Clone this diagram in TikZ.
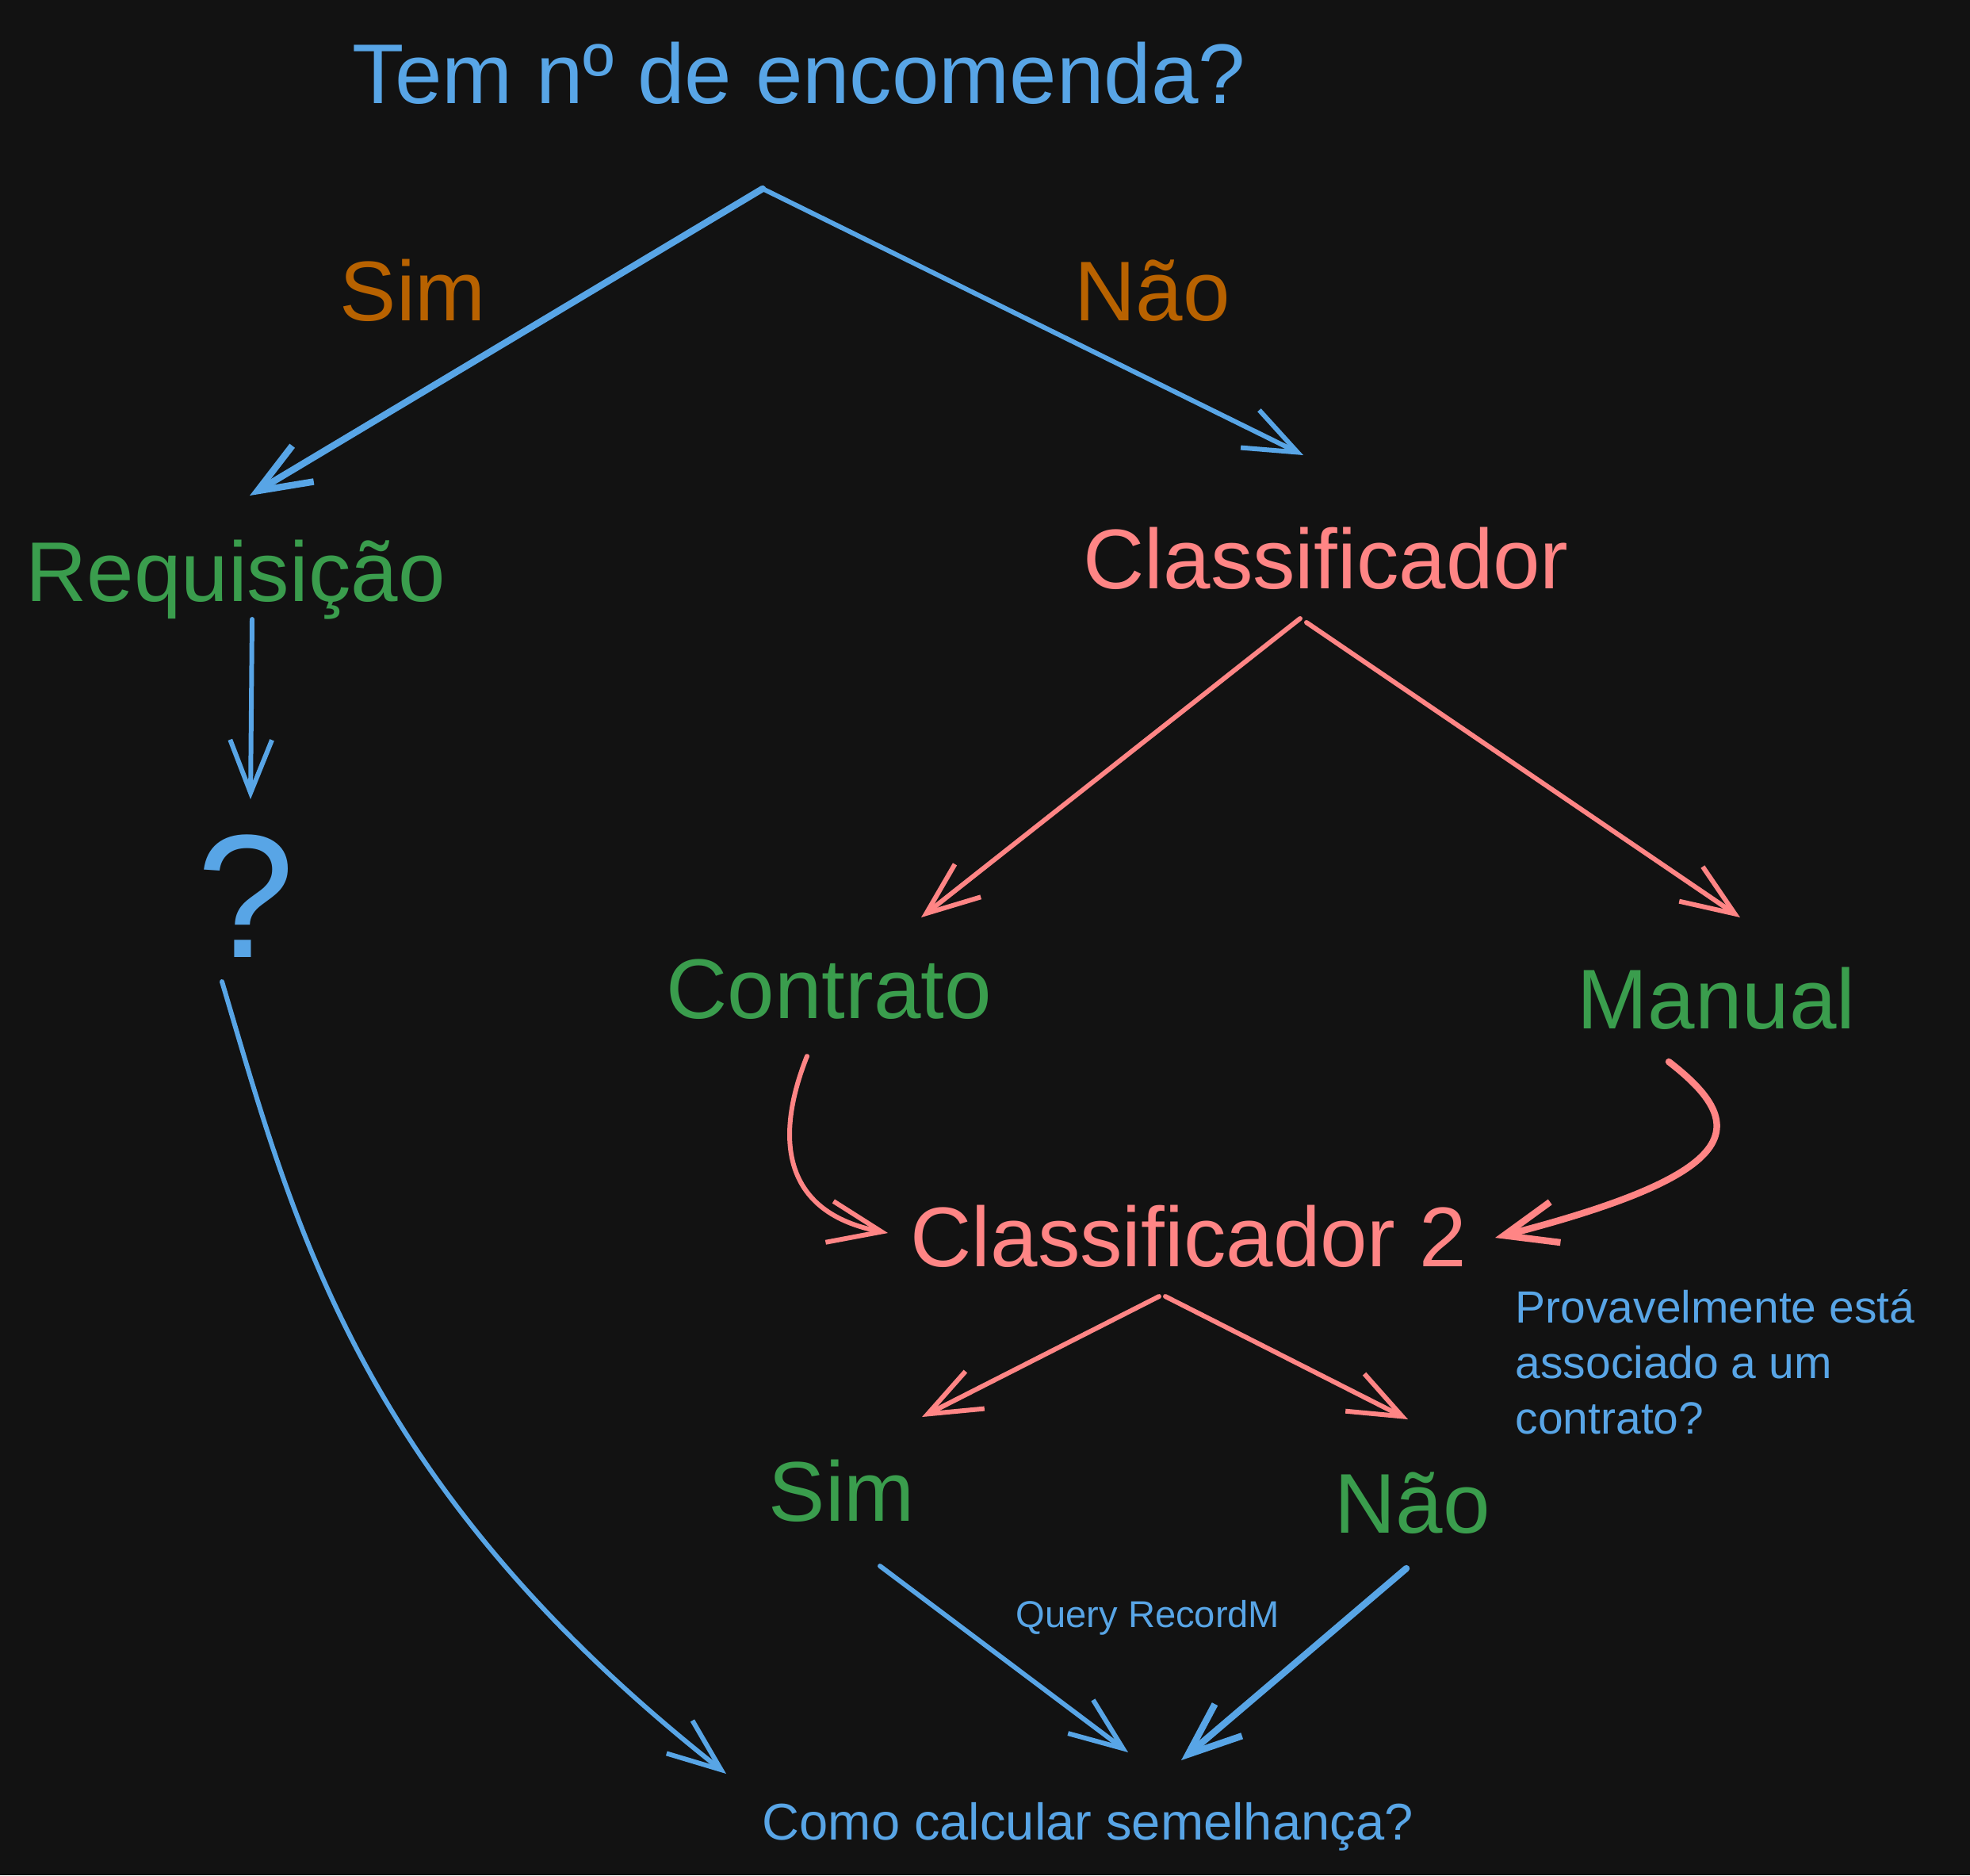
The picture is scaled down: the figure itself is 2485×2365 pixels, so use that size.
\documentclass[tikz,border=0pt]{standalone}
\usepackage{fontspec}
\setmainfont{Liberation Sans}
\usetikzlibrary{arrows.meta,calc}
\definecolor{bg}{HTML}{121212}
\definecolor{skyblue}{HTML}{58A5E6}
\definecolor{leafgreen}{HTML}{3A9D4D}
\definecolor{salmon}{HTML}{FF8585}
\definecolor{rust}{HTML}{B86200}

\begin{document}
\begin{tikzpicture}[x=0.01cm,y=-0.01cm,
  every node/.style={inner sep=0pt,anchor=base west},
  big/.style={font=\fontsize{30.4pt}{36pt}\selectfont},
  note/.style={font=\fontsize{16.2pt}{19.9pt}\selectfont,align=left},
  link/.style={line width=1.7pt,line cap=round,line join=round,-{Straight Barb[length=19pt,width=15pt]}},
  heavy/.style={link,line width=2.4pt}]
\fill[bg] (0,0) rectangle (2485,2365);
% question and first split
\node[big,skyblue] (title) at (444,130) {Tem nº de encomenda?};
\node[big,rust] (yes) at (428,404) {Sim};
\node[big,rust] (no) at (1355,404) {Não};
\node[big,leafgreen] (req) at (32,758) {Requisição};
\node[big,salmon] (cls) at (1366,742) {Classificador};
\node[font=\fontsize{63pt}{70pt}\selectfont,skyblue] (unk) at (248,1207) {?};
\node[big,leafgreen] (contr) at (840,1284) {Contrato};
\node[big,leafgreen] (manual) at (1989,1297) {Manual};
\node[big,salmon] (cls2) at (1148,1597) {Classificador 2};
\node[note,skyblue] (prov) at (1911,1808) {Provavelmente está\\associado a um\\contrato?};
\node[big,leafgreen] (yes2) at (969,1918) {Sim};
\node[big,leafgreen] (no2) at (1683,1933) {Não};
\node[font=\fontsize{13.4pt}{16pt}\selectfont,skyblue] (query) at (1281,2052) {Query RecordM};
\node[font=\fontsize{18.5pt}{22pt}\selectfont,skyblue] (sim) at (961,2320) {Como calcular semelhança?};
\coordinate (fork) at ($(title.base west)+(518,108)$);
% connectors
\draw[heavy,skyblue] (fork) -- ($(req.base west)+(283,-133)$);
\draw[link,skyblue] (fork) -- ($(cls.base west)+(278,-168)$);
\draw[link,skyblue] ($(req.base west)+(286,23)$) -- ($(unk.base west)+(68,-199)$);
\draw[link,skyblue] ($(unk.base west)+(32,31)$) .. controls (370,1540) and (450,1870) .. ($(sim.base west)+(-45,-83)$);
\draw[link,salmon] ($(cls.base west)+(274,38)$) -- ($(contr.base west)+(322,-127)$);
\draw[link,salmon] ($(cls.base west)+(282,43)$) -- ($(manual.base west)+(206,-140)$);
\draw[link,salmon] ($(contr.base west)+(178,48)$) .. controls (975,1440) and (990,1530) .. ($(cls2.base west)+(-28,-42)$);
\draw[heavy,salmon] ($(manual.base west)+(116,42)$) .. controls (2210,1420) and (2200,1480) .. ($(cls2.base west)+(738,-36)$);
\draw[link,salmon] ($(cls2.base west)+(314,38)$) -- ($(yes2.base west)+(194,-131)$);
\draw[link,salmon] ($(cls2.base west)+(322,38)$) -- ($(no2.base west)+(93,-143)$);
\draw[link,skyblue] ($(yes2.base west)+(141,57)$) -- ($(sim.base west)+(462,-110)$);
\draw[heavy,skyblue] ($(no2.base west)+(91,45)$) -- ($(sim.base west)+(529,-100)$);
\end{tikzpicture}
\end{document}
